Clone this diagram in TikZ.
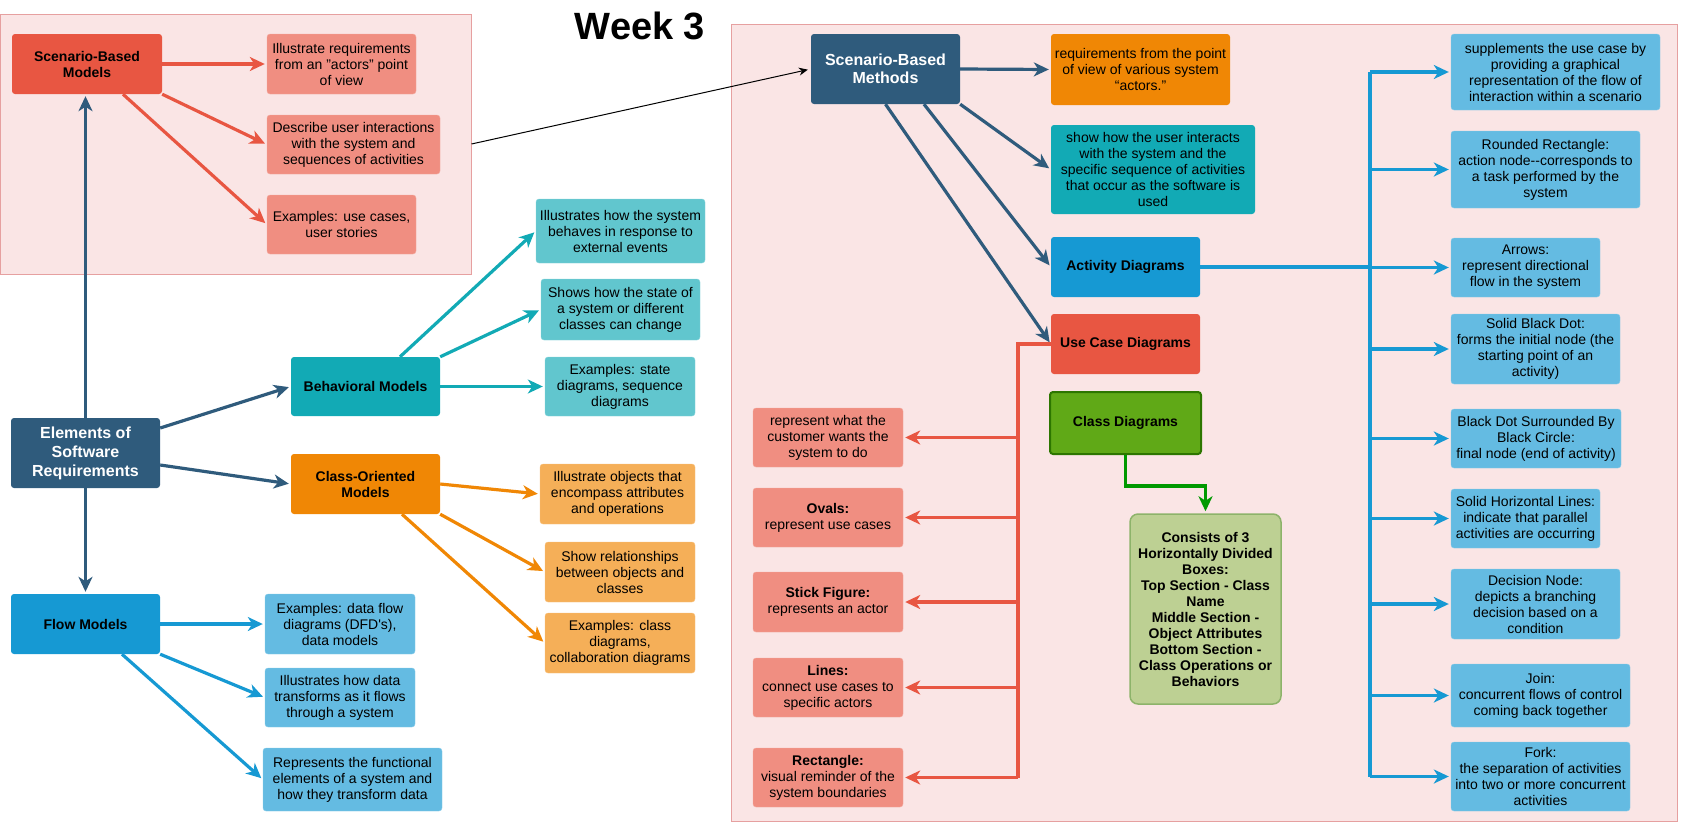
\documentclass[tikz,border=0pt]{standalone}
\usepackage{fontspec}
\setmainfont{Liberation Sans}
\usetikzlibrary{arrows.meta}

\definecolor{sbred}{HTML}{E85642}
\definecolor{sblightred}{HTML}{F08E81}
\definecolor{sbnavy}{HTML}{2F5B7C}
\definecolor{sbteal}{HTML}{12AAB5}
\definecolor{sblightteal}{HTML}{61C6CE}
\definecolor{sborange}{HTML}{F08705}
\definecolor{sblightorange}{HTML}{F5AF58}
\definecolor{sbblue}{HTML}{1699D3}
\definecolor{sblightblue}{HTML}{64BBE2}
\definecolor{sbgreen}{HTML}{60A917}
\definecolor{sbdarkgreen}{HTML}{2D7600}
\definecolor{sblightgreen}{HTML}{BDD093}
\definecolor{sbgreenedge}{HTML}{8DB36A}
\definecolor{sbgreenline}{HTML}{009900}
\definecolor{panelfill}{HTML}{FAE5E5}
\definecolor{paneledge}{HTML}{E6A0A0}

\begin{document}
\begin{tikzpicture}[x=1pt, y=-1pt,
		>={Stealth[length=15pt, width=14pt, inset=4.5pt]},
		box/.style={rounded corners=3pt, align=center, inner sep=2pt, text=black,
			font=\fontsize{14}{16}\selectfont},
		head/.style={box, font=\fontsize{14}{16}\selectfont\bfseries},
		note/.style={box, fill=#1, draw=#1!75!white},
		wh/.style 2 args={minimum width=#1pt, minimum height=#2pt},
		panel/.style={fill=panelfill, draw=paneledge, line width=1pt},
		trunk/.style={line width=3.2pt, draw=#1},
		link/.style={->, line width=3.2pt, draw=#1, shorten >=2pt}]
		
		\useasboundingbox (0,0) rectangle (1681,822);
		
		% --- 1. Title and the two shaded panels ---
		\node[font=\fontsize{38}{40}\selectfont\bfseries] (title) at (640,26) {Week 3};
		\node[panel, wh={470.5}{260}] (leftpanel) at (235.75,144) {};
		\node[panel, wh={946}{797}] (rightpanel) at (1204,422.5) {};
		
		% --- 2. Left half: the main model families ---
		\node[head, fill=sbnavy, text=white, wh={149}{70},
		font=\fontsize{16}{19}\selectfont\bfseries] (elements) at (85.5,453)
		{Elements of\\Software\\Requirements};
		\node[head, fill=sbred, wh={150}{60}] (sbmodels) at (87,64) {Scenario-Based\\Models};
		\node[head, fill=sbteal, wh={149}{59}] (behav) at (365.5,386.5) {Behavioral Models};
		\node[head, fill=sborange, wh={149}{60}] (classo) at (365.5,484) {Class-Oriented\\Models};
		\node[head, fill=sbblue, wh={149}{60}] (flow) at (85.5,624) {Flow Models};
		
		% scenario-based models
		\node[note=sblightred, wh={149}{60}] (sbm1) at (341.5,64)
		{Illustrate requirements\\from an "actors" point\\of view};
		\node[note=sblightred, wh={173}{59}] (sbm2) at (353.5,144.5)
		{Describe user interactions\\with the system and\\sequences of activities};
		\node[note=sblightred, wh={149}{59}] (sbm3) at (341.5,224.5)
		{Examples: use cases,\\user stories};
		
		% behavioral models
		\node[note=sblightteal, wh={169}{64}] (beh1) at (620.5,231)
		{Illustrates how the system\\behaves in response to\\external events};
		\node[note=sblightteal, wh={159}{61}] (beh2) at (620.5,309.5)
		{Shows how the state of\\a system or different\\classes can change};
		\node[note=sblightteal, wh={150}{59}] (beh3) at (620,386.5)
		{Examples: state\\diagrams, sequence\\diagrams};
		
		% class-oriented models
		\node[note=sblightorange, wh={155}{60}] (cls1) at (617.5,494)
		{Illustrate objects that\\encompass attributes\\and operations};
		\node[note=sblightorange, wh={150}{60}] (cls2) at (620,572)
		{Show relationships\\between objects and\\classes};
		\node[note=sblightorange, wh={150}{60}] (cls3) at (620,643)
		{Examples: class\\diagrams,\\collaboration diagrams};
		
		% flow models
		\node[note=sblightblue, wh={150}{60}] (flw1) at (340,624)
		{Examples: data flow\\diagrams (DFD\textquotesingle s),\\data models};
		\node[note=sblightblue, wh={150}{59}] (flw2) at (340,697.5)
		{Illustrates how data\\transforms as it flows\\through a system};
		\node[note=sblightblue, wh={179}{63}] (flw3) at (352.5,779.5)
		{Represents the functional\\elements of a system and\\how they transform data};
		
		% --- 3. Left half: connectors ---
		\draw[link=sbnavy] (elements.north) -- (elements.north |- sbmodels.south);
		\draw[link=sbnavy] ([yshift=25]elements.east) -- (behav.west);
		\draw[link=sbnavy] ([yshift=-12]elements.east) -- (classo.west);
		\draw[link=sbnavy] (elements.south) -- (flow.north);
		
		\draw[link=sbred] (sbmodels.east) -- (sbm1.west);
		\draw[link=sbred] (sbmodels.south east) -- (sbm2.west);
		\draw[link=sbred] ([xshift=36]sbmodels.south) -- (sbm3.west);
		
		\draw[link=sbteal] ([xshift=34.5]behav.north) -- (beh1.west);
		\draw[link=sbteal] (behav.north east) -- (beh2.west);
		\draw[link=sbteal] (behav.east) -- (beh3.west);
		
		\draw[link=sborange] (classo.east) -- (cls1.west);
		\draw[link=sborange] (classo.south east) -- (cls2.west);
		\draw[link=sborange] ([xshift=36.5]classo.south) -- (cls3.west);
		
		\draw[link=sbblue] (flow.east) -- (flw1.west);
		\draw[link=sbblue] (flow.south east) -- (flw2.west);
		\draw[link=sbblue] ([xshift=36.5]flow.south) -- (flw3.west);
		
		% --- 4. Right half: scenario-based methods ---
		\node[head, fill=sbnavy, text=white, wh={149}{70},
		font=\fontsize{16}{18.5}\selectfont\bfseries] (sbmeth) at (885.5,69)
		{Scenario-Based\\Methods};
		\node[box, fill=sborange, wh={179}{71}] (sbr1) at (1140.5,69.5)
		{requirements from the point\\of view of various system\\“actors.”};
		\node[box, fill=sbteal, wh={204}{89}] (sbr2) at (1153,169.5)
		{show how the user interacts\\with the system and the\\specific sequence of activities\\that occur as the software is\\used};
		\node[head, fill=sbblue, wh={149}{60}] (actd) at (1125.5,267) {Activity Diagrams};
		\node[head, fill=sbred, wh={149}{60}] (usecase) at (1125.5,344) {Use Case Diagrams};
		\node[head, fill=sbgreen, draw=sbdarkgreen, line width=2pt, wh={151}{62}]
		(classd) at (1125.5,423) {Class Diagrams};
		\node[head, fill=sblightgreen, draw=sbgreenedge, line width=1.5pt,
		rounded corners=8pt, wh={151}{190}] (classinfo) at (1205.5,609)
		{Consists of 3\\Horizontally Divided\\Boxes:\\Top Section - Class\\Name\\Middle Section -\\Object Attributes\\Bottom Section -\\Class Operations or\\Behaviors};
		
		% use case diagram notes
		\node[note=sblightred, wh={150}{59}] (uc1) at (828,437.5)
		{represent what the\\customer wants the\\system to do};
		\node[note=sblightred, wh={150}{59}] (uc2) at (828,517.5)
		{\textbf{Ovals:}\\represent use cases};
		\node[note=sblightred, wh={150}{60}] (uc3) at (828,602)
		{\textbf{Stick Figure:}\\represents an actor};
		\node[note=sblightred, wh={150}{59}] (uc4) at (828,687.5)
		{\textbf{Lines:}\\connect use cases to\\specific actors};
		\node[note=sblightred, wh={150}{59}] (uc5) at (828,777.5)
		{\textbf{Rectangle:}\\visual reminder of the\\system boundaries};
		
		% activity diagram notes
		\node[note=sblightblue, wh={209}{76}] (ad1) at (1555.5,72)
		{supplements the use case by\\providing a graphical\\representation of the flow of\\interaction within a scenario};
		\node[note=sblightblue, wh={189}{77}] (ad2) at (1545.5,169.5)
		{Rounded Rectangle:\\action node-{}-corresponds to\\a task performed by the\\system};
		\node[note=sblightblue, wh={149}{59}] (ad3) at (1525.5,267.5)
		{Arrows:\\represent directional\\flow in the system};
		\node[note=sblightblue, wh={169}{70}] (ad4) at (1535.5,349)
		{Solid Black Dot:\\forms the initial node (the\\starting point of an\\activity)};
		\node[note=sblightblue, wh={170}{59}] (ad5) at (1536,438.5)
		{Black Dot Surrounded By\\Black Circle:\\final node (end of activity)};
		\node[note=sblightblue, wh={149}{59}] (ad6) at (1525.5,518.5)
		{Solid Horizontal Lines:\\indicate that parallel\\activities are occurring};
		\node[note=sblightblue, wh={169}{70}] (ad7) at (1535.5,604)
		{Decision Node:\\depicts a branching\\decision based on a\\condition};
		\node[note=sblightblue, wh={179}{63}] (ad8) at (1540.5,695.5)
		{Join:\\concurrent flows of control\\coming back together};
		\node[note=sblightblue, wh={179}{69}] (ad9) at (1540.5,776.5)
		{Fork:\\the separation of activities\\into two or more concurrent\\activities};
		
		% --- 5. Right half: connectors ---
		\draw[-{Stealth[length=9pt, width=8pt, inset=3pt]}, line width=1pt, shorten >=3pt]
		(leftpanel.east) -- (sbmeth.west);
		
		\draw[link=sbnavy] (sbmeth.east) -- (sbr1.west);
		\draw[link=sbnavy] (sbmeth.south east) -- (sbr2.west);
		\draw[link=sbnavy] ([xshift=38.5]sbmeth.south) -- (actd.west);
		\draw[link=sbnavy] (sbmeth.south) -- (usecase.west);
		
		% use case branches
		\coordinate (uctrunk) at (1018,344);
		\draw[trunk=sbred] (usecase.west) -- (uctrunk) -- (uctrunk |- uc5.east);
		\foreach \n in {1,...,5}
		\draw[link=sbred] (uctrunk |- uc\n.east) -- (uc\n.east);
		
		% activity diagram branches
		\coordinate (adtrunk) at (1370,267);
		\draw[trunk=sbblue] (actd.east) -- (adtrunk);
		\draw[trunk=sbblue] (adtrunk |- ad1.west) -- (adtrunk |- ad9.west);
		\foreach \n in {1,...,9}
		\draw[link=sbblue] (adtrunk |- ad\n.west) -- (ad\n.west);
		
		% class diagram detail
		\draw[link=sbgreenline] (classd.south) -- ++(0,31) -| (classinfo.north);
		
	\end{tikzpicture}
\end{document}
